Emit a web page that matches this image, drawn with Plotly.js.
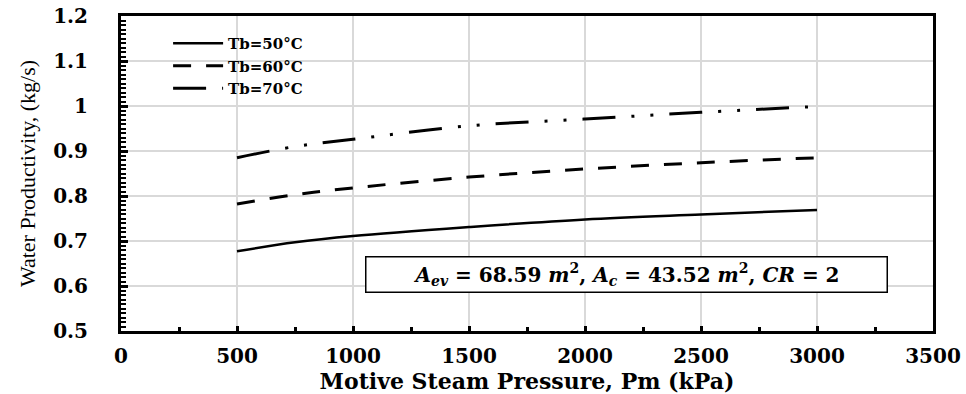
<!DOCTYPE html>
<html>
<head>
<meta charset="utf-8">
<script src="https://cdn.plot.ly/plotly-3.0.1.min.js"></script>
<style>html,body{margin:0;padding:0;background:#fff;}</style>
</head>
<body>
<div id="chart" style="width:966px;height:394px;"></div>
<script>
// Data
const pressure = [500, 750, 1000, 1500, 2000, 2500, 3000];
const tb50 = [0.677, 0.697, 0.711, 0.731, 0.748, 0.759, 0.769];
const tb60 = [0.782, 0.803, 0.818, 0.842, 0.860, 0.874, 0.885];
const tb70 = [0.885, 0.910, 0.926, 0.956, 0.971, 0.986, 0.999];
const seriesNames = ['Tb=50°C', 'Tb=60°C', 'Tb=70°C'];
const xTickVals = [0, 500, 1000, 1500, 2000, 2500, 3000, 3500];
const yTickVals = [0.5, 0.6, 0.7, 0.8, 0.9, 1.0, 1.1, 1.2];
const yTickText = ['0.5', '0.6', '0.7', '0.8', '0.9', '1', '1.1', '1.2'];
const noteText = '<b><i>A</i><sub><i>ev</i></sub> = 68.59 <i>m</i><sup>2</sup>, <i>A</i><sub><i>c</i></sub> = 43.52 <i>m</i><sup>2</sup>, <i>CR</i> = 2</b>';

const serif = 'DejaVu Serif, Liberation Serif, serif';

const traces = [
  {x: pressure, y: tb50, name: seriesNames[0], mode: 'lines', line: {color: '#000', width: 2.5, shape: 'spline', dash: 'solid'}},
  {x: pressure, y: tb60, name: seriesNames[1], mode: 'lines', line: {color: '#000', width: 3, shape: 'spline', dash: '18px,15px'}},
  {x: pressure, y: tb70, name: seriesNames[2], mode: 'lines', line: {color: '#000', width: 3, shape: 'spline', dash: '33px,16px,3px,16px,3px,16px'}}
];

const layout = {
  width: 966, height: 394,
  margin: {l: 121, r: 33, t: 16, b: 63},
  paper_bgcolor: '#fff', plot_bgcolor: '#fff',
  showlegend: true,
  legend: {
    x: 0.058, y: 0.965, xanchor: 'left', yanchor: 'top',
    bgcolor: 'rgba(255,255,255,0)',
    itemwidth: 50,
    font: {family: serif, size: 15, color: '#000', weight: 'bold'}
  },
  xaxis: {
    range: [0, 3500], tickvals: xTickVals, ticktext: xTickVals.map(String),
    showgrid: true, gridcolor: '#d9d9d9', gridwidth: 1.5,
    zeroline: false,
    showline: true, linecolor: '#000', linewidth: 3, mirror: true,
    ticks: 'inside', ticklen: 5, tickwidth: 3, tickcolor: '#000',
    minor: {dtick: 250, ticks: 'inside', ticklen: 4, tickwidth: 3, tickcolor: '#000', showgrid: false},
    ticklabelstandoff: 5,
    tickfont: {family: serif, size: 20, color: '#000', weight: 'bold'},
    title: {text: 'Motive Steam Pressure, Pm (kPa)', standoff: 6,
            font: {family: serif, size: 22, color: '#000', weight: 'bold'}}
  },
  yaxis: {
    range: [0.5, 1.2], tickvals: yTickVals, ticktext: yTickText,
    showgrid: true, gridcolor: '#d9d9d9', gridwidth: 1.5,
    zeroline: false,
    showline: true, linecolor: '#000', linewidth: 3, mirror: true,
    ticks: 'inside', ticklen: 7, tickwidth: 3, tickcolor: '#000',
    minor: {dtick: 0.01, ticks: 'inside', ticklen: 5, tickwidth: 2, tickcolor: '#000', showgrid: false},
    ticklabelstandoff: 26,
    tickfont: {family: serif, size: 20, color: '#000', weight: 'bold'},
    title: {text: 'Water Productivity, (kg/s)', standoff: 12,
            font: {family: 'Liberation Serif, serif', size: 22, color: '#000'}}
  },
  annotations: [{
    xref: 'paper', yref: 'paper', x: 0.6225, y: 0.178,
    xanchor: 'center', yanchor: 'middle',
    text: noteText, showarrow: false,
    width: 516, height: 30,
    bordercolor: '#000', borderwidth: 1.5, borderpad: 2, bgcolor: '#fff',
    font: {family: serif, size: 20, color: '#000'}
  }]
};

Plotly.newPlot('chart', traces, layout, {displayModeBar: false, staticPlot: true});
</script>
</body>
</html>
